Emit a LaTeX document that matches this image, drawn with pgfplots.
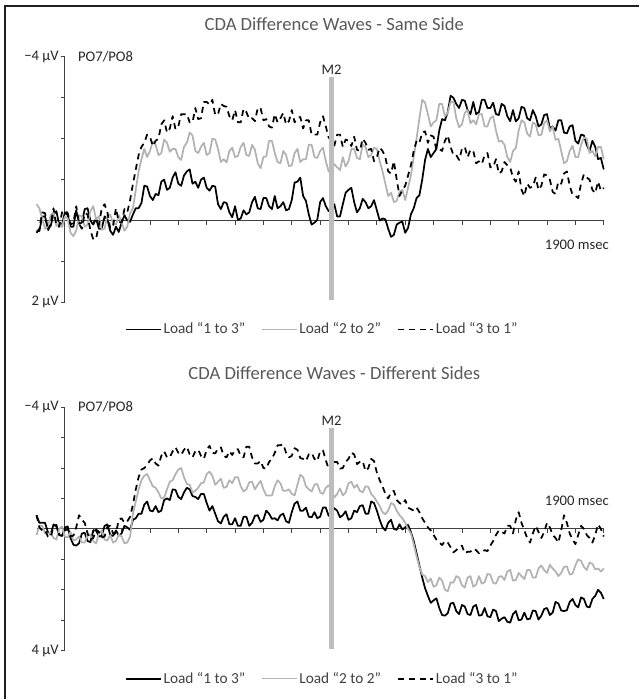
\documentclass[border=0pt]{standalone}
\usepackage{pgfplots}
\pgfplotsset{compat=1.18}
\usepackage{pgfplotstable}
\usepackage{fontspec}
\setmainfont{Carlito}

\definecolor{wgray}{HTML}{B2B2B2}
\definecolor{bargray}{HTML}{BDBDBD}
\definecolor{txtgray}{HTML}{595959}
\definecolor{axgray}{HTML}{404040}

% Panel 1: Same Side  (t in ms, b = load 1 to 3, g = load 2 to 2, d = load 3 to 1), values in microvolt
\pgfplotstableread{
t b g d
-100 0.25 -0.4 0.3
-90 0.26 -0.3 0.2
-80 -0.1 -0.05 -0.2
-70 -0.10 0.2 -0.18
-60 0.2 0.15 0.25
-50 0.13 -0.13 0.08
-40 -0.15 -0.2 -0.3
-30 -0.23 0.13 0.13
-20 0.1 0.05 0.15
-10 0.10 0.16 -0.2
0 -0.2 -0.1 -0.25
10 -0.13 -0.05 -0.18
20 0.15 0.3 0.1
30 0.15 0.38 0.05
40 -0.25 0.25 -0.35
50 0.08 -0.13 0.08
60 0.05 -0.1 0.2
70 -0.28 0.15 -0.18
80 -0.3 0.1 -0.15
90 0.0 -0.23 0.25
100 0.1 -0.35 0.45
110 -0.05 -0.03 0.45
120 0.2 -0.1 0.1
130 0.2 0.23 -0.3
140 -0.1 0.2 -0.4
150 -0.03 -0.13 -0.2
160 0.25 -0.15 0.2
170 0.35 0.08 0.13
180 0.15 0.1 -0.3
190 0.28 -0.13 0.03
200 0.05 0.05 0.05
210 -0.13 0.25 -0.28
220 0.0 0.15 -0.2
230 0.03 -0.18 -0.5
240 -0.15 -0.3 -0.9
250 -0.3 -0.75 -1.25
260 -0.3 -1.2 -1.6
270 -0.43 -1.5 -1.8
280 -0.85 -1.75 -1.9
290 -0.83 -1.55 -2.1
300 -0.6 -1.7 -2.05
310 -0.5 -1.93 -1.82
320 -0.65 -1.85 -1.95
330 -0.62 -1.6 -2.0
340 -0.95 -1.65 -2.35
350 -1.0 -1.98 -2.45
360 -0.75 -1.9 -2.15
370 -0.8 -1.68 -2.25
380 -1.05 -1.75 -2.55
390 -1.18 -1.75 -2.23
400 -0.9 -1.55 -2.3
410 -0.85 -1.48 -2.6
420 -1.1 -1.8 -2.6
430 -1.2 -1.9 -2.6
440 -1.25 -2.15 -2.4
450 -0.9 -2.08 -2.4
460 -0.95 -1.7 -2.75
470 -0.8 -1.65 -2.48
480 -1.0 -1.8 -2.5
490 -1.05 -1.9 -2.9
500 -0.8 -1.6 -2.9
510 -0.73 -1.65 -2.83
520 -0.85 -2.0 -2.95
530 -0.83 -1.98 -2.58
540 -0.4 -1.75 -2.6
550 -0.28 -1.43 -2.85
560 -0.45 -1.5 -2.8
570 -0.43 -1.42 -2.78
580 -0.2 -1.7 -2.55
590 -0.08 -1.78 -2.45
600 -0.35 -1.55 -2.7
610 -0.02 -1.58 -2.4
620 -0.05 -1.8 -2.4
630 -0.25 -1.9 -2.73
640 -0.15 -1.6 -2.65
650 -0.2 -1.58 -2.48
660 -0.45 -1.85 -2.5
670 -0.58 -1.73 -2.43
680 -0.3 -1.4 -2.75
690 -0.28 -1.28 -2.75
700 -0.55 -1.55 -2.45
710 -0.55 -1.57 -2.48
720 -0.35 -1.95 -2.3
730 -0.28 -1.95 -2.27
740 -0.6 -1.65 -2.6
750 -0.3 -1.43 -2.4
760 -0.35 -1.4 -2.5
770 -0.45 -1.7 -2.63
780 -0.25 -1.6 -2.35
790 -0.28 -1.33 -2.43
800 -0.5 -1.35 -2.7
810 -0.93 -1.65 -2.4
820 -0.95 -1.75 -2.5
830 -1.05 -1.43 -2.53
840 -0.6 -1.5 -2.25
850 -0.48 -1.5 -2.45
860 -0.15 -1.85 -2.45
870 0.1 -1.85 -2.1
880 0.05 -1.55 -2.1
890 -0.02 -1.53 -2.1
900 -0.45 -1.7 -2.4
910 -0.55 -1.78 -2.55
920 -0.35 -1.45 -2.3
930 -0.23 -1.2 -2.03
940 -0.3 -1.25 -1.95
950 -0.4 -1.38 -1.83
960 -0.1 -1.3 -2.1
970 -0.1 -1.23 -2.1
980 -0.4 -1.55 -1.8
990 -0.68 -1.32 -1.98
1000 -0.75 -1.45 -1.95
1010 -0.8 -1.75 -1.82
1020 -0.45 -1.75 -2.05
1030 -0.2 -1.53 -1.73
1040 -0.3 -1.5 -1.7
1050 -0.53 -1.85 -2.0
1060 -0.45 -1.8 -1.9
1070 -0.3 -1.55 -1.73
1080 -0.35 -1.6 -1.75
1090 -0.5 -1.78 -1.45
1100 -0.25 -1.75 -1.55
1110 0.0 -1.45 -1.78
1120 -0.05 -1.2 -1.7
1130 -0.03 -0.9 -1.55
1140 0.2 -0.6 -1.2
1150 0.4 -0.68 -1.15
1160 0.35 -0.45 -1.45
1170 0.1 -0.48 -1.0
1180 0.05 -0.7 -0.6
1190 0.03 -0.75 -0.75
1200 0.3 -0.5 -0.85
1210 0.18 -0.8 -1.1
1220 -0.15 -1.1 -1.35
1230 -0.3 -1.55 -1.7
1240 -0.55 -2.0 -1.95
1250 -0.62 -2.5 -1.9
1260 -1.0 -2.95 -2.15
1270 -1.48 -2.88 -2.18
1280 -1.75 -2.6 -1.9
1290 -1.55 -2.3 -2.08
1300 -1.65 -2.4 -2.05
1310 -1.75 -2.45 -1.72
1320 -2.2 -2.85 -1.75
1330 -2.48 -2.85 -1.7
1340 -2.45 -2.55 -1.95
1350 -2.65 -2.63 -2.08
1360 -3.05 -2.9 -1.8
1370 -3.0 -2.9 -1.6
1380 -2.85 -2.5 -1.6
1390 -2.75 -2.28 -1.48
1400 -2.95 -2.35 -1.75
1410 -2.93 -2.63 -1.8
1420 -2.7 -2.7 -1.55
1430 -2.6 -2.38 -1.73
1440 -2.9 -2.45 -1.7
1450 -2.6 -2.35 -1.4
1460 -2.65 -2.6 -1.45
1470 -2.95 -2.6 -1.38
1480 -2.95 -2.3 -1.6
1490 -2.75 -2.3 -1.65
1500 -2.75 -2.5 -1.3
1510 -2.88 -2.55 -1.3
1520 -2.6 -2.2 -1.5
1530 -2.58 -1.93 -1.15
1540 -2.85 -1.95 -1.2
1550 -2.8 -1.85 -1.43
1560 -2.55 -1.55 -1.35
1570 -2.43 -1.43 -1.3
1580 -2.7 -1.7 -1.05
1590 -2.42 -1.77 -0.95
1600 -2.5 -2.2 -1.2
1610 -2.78 -2.45 -0.75
1620 -2.75 -2.4 -0.6
1630 -2.5 -2.13 -0.9
1640 -2.45 -2.05 -0.8
1650 -2.7 -2.4 -0.83
1660 -2.55 -2.35 -1.05
1670 -2.3 -2.08 -0.75
1680 -2.35 -2.1 -0.85
1690 -2.58 -2.38 -1.13
1700 -2.6 -2.45 -1.1
1710 -2.25 -2.18 -1.0
1720 -2.3 -2.3 -0.7
1730 -2.2 -1.97 -0.65
1740 -2.45 -2.0 -0.95
1750 -2.45 -1.7 -0.9
1760 -2.15 -1.4 -1.15
1770 -2.13 -1.45 -1.2
1780 -2.3 -1.7 -0.85
1790 -2.33 -1.83 -0.63
1800 -1.95 -1.55 -0.6
1810 -1.88 -1.55 -0.55
1820 -2.1 -1.85 -0.9
1830 -2.08 -2.03 -1.13
1840 -1.85 -2.0 -1.05
1850 -1.7 -1.65 -1.0
1860 -1.95 -1.7 -0.75
1870 -1.8 -1.57 -0.67
1880 -1.5 -1.8 -0.95
1890 -1.53 -1.8 -0.73
1900 -1.25 -1.5 -0.8
}\pA

% Panel 2: Different Sides
\pgfplotstableread{
t b g d
-100 -0.45 0.2 -0.45
-90 -0.2 -0.1 -0.05
-80 -0.2 -0.1 0.05
-70 -0.2 0.15 0.03
-60 0.1 0.15 0.25
-50 0.18 0.13 0.28
-40 -0.15 0.3 -0.1
-30 -0.08 0.35 -0.13
-20 0.2 0.0 0.2
-10 0.23 -0.08 0.23
0 -0.05 0.25 0.05
10 -0.08 0.28 0.0
20 0.3 0.1 0.25
30 0.52 0.38 0.22
40 0.55 0.35 -0.05
50 0.47 0.25 -0.45
60 0.15 0.45 -0.3
70 0.13 0.45 -0.2
80 0.4 0.2 0.15
90 0.43 0.2 0.35
100 0.05 0.4 0.3
110 0.05 0.48 0.02
120 0.25 0.15 0.1
130 0.23 0.05 0.28
140 -0.1 0.35 0.25
150 -0.15 0.38 -0.08
160 0.2 0.2 -0.1
170 0.23 0.45 0.15
180 0.05 0.4 0.15
190 0.22 0.18 -0.3
200 0.15 0.25 -0.35
210 -0.1 0.47 -0.2
220 -0.05 0.45 -0.25
230 0.03 0.25 -0.4
240 -0.3 -0.5 -0.8
250 -0.35 -0.9 -1.3
260 -0.5 -1.3 -1.7
270 -0.5 -1.6 -1.95
280 -0.8 -1.75 -2.0
290 -0.9 -1.8 -2.1
300 -0.6 -1.6 -2.25
310 -0.58 -1.4 -2.32
320 -0.75 -1.35 -2.15
330 -0.55 -1.2 -2.08
340 -0.6 -1.0 -2.4
350 -0.95 -1.03 -2.55
360 -1.0 -1.3 -2.35
370 -0.95 -1.55 -2.35
380 -1.3 -1.6 -2.55
390 -1.28 -1.8 -2.68
400 -1.05 -1.95 -2.5
410 -0.98 -2.0 -2.43
420 -1.2 -1.7 -2.6
430 -1.35 -1.48 -2.7
440 -1.3 -1.45 -2.45
450 -1.08 -1.2 -2.35
460 -1.05 -1.25 -2.55
470 -0.98 -1.35 -2.6
480 -1.15 -1.5 -2.4
490 -1.15 -1.53 -2.3
500 -0.85 -1.8 -2.6
510 -0.6 -1.88 -2.73
520 -0.75 -1.75 -2.5
530 -0.5 -1.45 -2.48
540 -0.25 -1.55 -2.65
550 -0.18 -1.65 -2.68
560 -0.4 -1.35 -2.4
570 -0.48 -1.38 -2.35
580 -0.15 -1.6 -2.55
590 -0.15 -1.5 -2.43
600 -0.35 -1.7 -2.6
610 -0.1 -1.7 -2.62
620 -0.1 -1.4 -2.4
630 -0.4 -1.23 -2.35
640 -0.4 -1.3 -2.7
650 -0.1 -1.53 -2.7
660 -0.2 -1.55 -2.35
670 -0.43 -1.3 -2.15
680 -0.45 -1.45 -2.15
690 -0.23 -1.58 -2.23
700 -0.3 -1.3 -2.0
710 -0.6 -1.1 -1.98
720 -0.5 -1.1 -2.2
730 -0.33 -1.1 -2.3
740 -0.35 -1.4 -2.5
750 -0.28 -1.6 -2.75
760 -0.45 -1.5 -2.75
770 -0.5 -1.25 -2.78
780 -0.25 -1.25 -2.5
790 -0.2 -1.3 -2.35
800 -0.55 -1.15 -2.4
810 -0.83 -1.1 -2.65
820 -0.9 -1.45 -2.6
830 -0.6 -1.78 -2.33
840 -0.6 -1.7 -2.3
850 -0.7 -1.4 -2.23
860 -0.4 -1.3 -2.45
870 -0.38 -1.23 -2.5
880 -0.55 -1.45 -2.3
890 -0.35 -1.48 -2.23
900 -0.4 -1.2 -2.55
910 -0.7 -1.15 -2.58
920 -0.7 -1.35 -2.25
930 -0.43 -1.43 -1.98
940 -0.55 -1.3 -1.9
950 -0.68 -1.03 -2.2
960 -0.6 -1.15 -2.2
970 -0.38 -1.33 -1.98
980 -0.45 -1.1 -2.0
990 -0.58 -1.2 -2.2
1000 -0.3 -1.5 -2.3
1010 -0.35 -1.55 -2.5
1020 -0.6 -1.35 -2.45
1030 -0.55 -1.45 -2.13
1040 -0.75 -1.25 -2.2
1050 -0.78 -1.2 -2.23
1060 -0.5 -1.4 -1.9
1070 -0.5 -1.38 -2.0
1080 -0.9 -1.15 -2.3
1090 -0.85 -1.05 -2.23
1100 -0.6 -0.9 -1.85
1110 -0.3 -0.75 -1.6
1120 -0.05 -0.55 -1.4
1130 0.05 -0.48 -1.15
1140 -0.2 -0.6 -1.0
1150 -0.3 -0.85 -1.2
1160 0.0 -0.8 -1.25
1170 0.03 -0.6 -0.95
1180 -0.15 -0.45 -0.85
1190 0.02 -0.35 -0.8
1200 -0.05 -0.2 -0.95
1210 -0.13 0.0 -0.7
1220 0.1 0.15 -0.65
1230 0.4 0.5 -0.6
1240 0.8 0.9 -0.7
1250 1.2 1.25 -0.55
1260 1.6 1.5 -0.35
1270 1.95 1.55 -0.2
1280 2.2 1.75 -0.05
1290 2.43 1.63 0.05
1300 2.35 1.9 0.2
1310 2.28 1.85 0.35
1320 2.6 1.6 0.45
1330 2.83 1.7 0.53
1340 2.85 2.0 0.4
1350 2.77 2.05 0.45
1360 2.45 1.75 0.6
1370 2.43 1.77 0.77
1380 2.7 1.55 0.7
1390 2.8 1.6 0.6
1400 2.5 1.85 0.55
1410 2.55 1.93 0.8
1420 2.8 1.6 0.75
1430 2.83 1.55 0.75
1440 2.55 1.9 0.65
1450 2.5 1.83 0.7
1460 2.85 1.55 0.8
1470 2.83 1.8 0.75
1480 2.6 1.75 0.7
1490 2.87 1.48 0.73
1500 2.9 1.5 0.55
1510 2.65 1.77 0.4
1520 2.7 1.8 0.2
1530 3.03 1.58 0.05
1540 2.95 1.55 0.1
1550 2.9 1.68 0.15
1560 3.05 1.4 -0.1
1570 3.08 1.35 -0.1
1580 2.8 1.7 0.15
1590 2.7 1.68 -0.3
1600 3.0 1.45 -0.55
1610 2.98 1.55 -0.2
1620 2.75 1.65 0.05
1630 2.97 1.35 0.3
1640 2.95 1.35 0.45
1650 2.68 1.6 0.15
1660 2.7 1.6 -0.1
1670 2.98 1.3 0.1
1680 2.85 1.2 0.3
1690 2.63 1.35 0.1
1700 2.6 1.45 -0.2
1710 2.83 1.18 -0.05
1720 2.75 1.3 0.2
1730 2.4 1.4 0.3
1740 2.45 1.55 0.45
1750 2.68 1.45 0.05
1760 2.7 1.25 -0.45
1770 2.67 1.23 -0.2
1780 2.4 1.5 0.15
1790 2.3 1.47 0.35
1800 2.5 1.2 0.5
1810 2.58 1.0 0.2
1820 2.25 1.05 -0.1
1830 2.3 1.25 0.0
1840 2.55 1.35 0.2
1850 2.58 1.1 0.3
1860 2.3 1.15 0.45
1870 2.2 1.33 0.2
1880 2.0 1.3 -0.15
1890 2.1 1.4 0.0
1900 2.3 1.3 0.25
}\pB

\tikzset{lbl/.style={font=\fontsize{11}{13}\selectfont, text=black!85}}

% negative voltages are drawn upward (ERP convention): the y axis shows minus the value
\pgfplotsset{
  cda/.style={
    scale only axis, width=426.3pt,
    xmin=-100, xmax=1900,
    axis lines=middle, axis line style={-, axgray, line width=0.8pt},
    xtick={100,200,...,1900}, xticklabels={},
    tick align=outside, major tick length=3pt,
    tick style={axgray, line width=0.6pt},
    clip=false, enlargelimits=false,
    yticklabel style={font=\fontsize{11}{13}\selectfont, text=black!85, inner sep=1.5pt},
    title style={font=\fontsize{14}{16}\selectfont, text=txtgray, anchor=center},
    legend columns=3,
    legend style={draw=none, fill=none, anchor=center,
      font=\fontsize{11.5}{13}\selectfont, text=axgray,
      nodes={inner sep=1.5pt},
      /tikz/every even column/.append style={column sep=11pt}},
    legend image code/.code={\draw[##1] (0pt,0pt) -- (26pt,0pt);},
    every axis plot/.append style={line join=round},
  },
  blk/.style={black, line width=1.3pt},
  gry/.style={wgray, line width=1.3pt, legend image post style={line width=0.7pt}},
  dsh/.style={black, line width=1.3pt, dash pattern=on 4.5pt off 3.5pt},
}

\begin{document}
\begin{tikzpicture}
\path (0,0) rectangle (480pt,-525pt);
\draw[line width=2.2pt, black!88] (3.75pt,-525pt) -- (3.75pt,-4.5pt) -- (480pt,-4.5pt);

\begin{axis}[cda, at={(27.45pt,-227.25pt)}, anchor=south west, height=184.5pt,
  ymin=-2, ymax=4, ytick={-2,-1,...,4},
  yticklabels={{2 µV},{},{},{},{},{},{−4 µV}},
  title={CDA Difference Waves - Same Side}, title style={at={(0.525,1.10)}},
  legend style={at={(0.504,-0.11)}}]
\addplot[blk] table[x=t,y expr=-\thisrow{b}]{\pA};
\addlegendentry{Load “1 to 3”}
\addplot[gry] table[x=t,y expr=-\thisrow{g}]{\pA};
\addlegendentry{Load “2 to 2”}
\addplot[dsh] table[x=t,y expr=-\thisrow{d}]{\pA};
\addlegendentry{Load “3 to 1”}
\addplot[bargray, line width=3.75pt, forget plot] coordinates {(940,3.5) (940,-1.95)};
\node[lbl, anchor=south, inner sep=2pt] at (axis cs:940,3.5) {M2};
\node[lbl, anchor=west] at (axis cs:30,4) {PO7/PO8};
\node[lbl] at (axis cs:1805,-0.585) {1900 msec};
\end{axis}

\begin{axis}[cda, at={(27.45pt,-489pt)}, anchor=south west, height=183pt,
  ymin=-4, ymax=4, ytick={-4,-3,...,4},
  yticklabels={{4 µV},{},{},{},{},{},{},{},{−4 µV}},
  title={CDA Difference Waves - Different Sides}, title style={at={(0.525,1.107)}},
  legend style={at={(0.504,-0.115)}}]
\addplot[blk] table[x=t,y expr=-\thisrow{b}]{\pB};
\addlegendentry{Load “1 to 3”}
\addplot[gry] table[x=t,y expr=-\thisrow{g}]{\pB};
\addlegendentry{Load “2 to 2”}
\addplot[dsh] table[x=t,y expr=-\thisrow{d}]{\pB};
\addlegendentry{Load “3 to 1”}
\addplot[bargray, line width=3.75pt, forget plot] coordinates {(940,3.3) (940,-3.95)};
\node[lbl, anchor=south, inner sep=2pt] at (axis cs:940,3.3) {M2};
\node[lbl, anchor=west] at (axis cs:30,4) {PO7/PO8};
\node[lbl] at (axis cs:1805,0.92) {1900 msec};
\end{axis}
\end{tikzpicture}
\end{document}
